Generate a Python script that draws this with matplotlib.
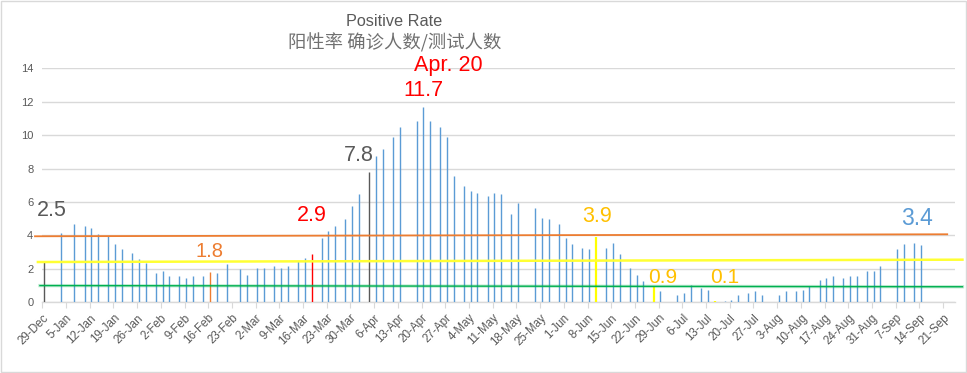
import numpy as np
import matplotlib
matplotlib.use("Agg")
import matplotlib.pyplot as plt
from matplotlib.patches import Rectangle

plt.rcParams['font.family'] = ['Liberation Sans', 'Noto Sans CJK SC', 'DejaVu Sans']

# ---------------- data ----------------
start_date = "2020-12-29"
dates = [
    "2020-12-29", "2021-01-03", "2021-01-07", "2021-01-10", "2021-01-12", "2021-01-14",
    "2021-01-17", "2021-01-19", "2021-01-21", "2021-01-24", "2021-01-26", "2021-01-28",
    "2021-01-31", "2021-02-02", "2021-02-04", "2021-02-07", "2021-02-09", "2021-02-11",
    "2021-02-14", "2021-02-16", "2021-02-18", "2021-02-21", "2021-02-25", "2021-02-27",
    "2021-03-02", "2021-03-04", "2021-03-07", "2021-03-09", "2021-03-11", "2021-03-14",
    "2021-03-16", "2021-03-18", "2021-03-21", "2021-03-23", "2021-03-25", "2021-03-28",
    "2021-03-30", "2021-04-01", "2021-04-04", "2021-04-06", "2021-04-08", "2021-04-11",
    "2021-04-13", "2021-04-18", "2021-04-20", "2021-04-22", "2021-04-25", "2021-04-27",
    "2021-04-29", "2021-05-02", "2021-05-04", "2021-05-06", "2021-05-09", "2021-05-11",
    "2021-05-13", "2021-05-16", "2021-05-18", "2021-05-23", "2021-05-25", "2021-05-27",
    "2021-05-30", "2021-06-01", "2021-06-03", "2021-06-06", "2021-06-08", "2021-06-10",
    "2021-06-13", "2021-06-15", "2021-06-17", "2021-06-20", "2021-06-22", "2021-06-24",
    "2021-06-27", "2021-06-29", "2021-07-04", "2021-07-06", "2021-07-08", "2021-07-11",
    "2021-07-13", "2021-07-15", "2021-07-18", "2021-07-20", "2021-07-22", "2021-07-25",
    "2021-07-27", "2021-07-29", "2021-08-03", "2021-08-05", "2021-08-08", "2021-08-10",
    "2021-08-12", "2021-08-15", "2021-08-17", "2021-08-19", "2021-08-22", "2021-08-24",
    "2021-08-26", "2021-08-29", "2021-08-31", "2021-09-02", "2021-09-07", "2021-09-09",
    "2021-09-12", "2021-09-14",
]
rates = [
    2.5, 4.15, 4.69, 4.57, 4.45, 4.09,
    3.95, 3.49, 3.19, 2.95, 2.59, 2.35,
    1.75, 1.87, 1.57, 1.57, 1.47, 1.57,
    1.57, 1.8, 1.75, 2.29, 1.99, 1.63,
    2.05, 2.05, 2.17, 2.05, 2.17, 2.47,
    2.65, 2.9, 3.85, 4.27, 4.57, 4.99,
    5.76, 6.48, 7.8, 8.76, 9.17, 9.89,
    10.49, 10.85, 11.7, 10.85, 10.49, 9.89,
    7.56, 6.96, 6.66, 6.54, 6.36, 6.54,
    6.48, 5.28, 5.94, 5.64, 5.04, 4.98,
    4.68, 3.85, 3.49, 3.25, 3.19, 3.9,
    3.25, 3.55, 2.89, 2.05, 1.63, 1.27,
    0.9, 0.68, 0.44, 0.56, 1.04, 0.86,
    0.74, 0.1, 0.08, 0.14, 0.44, 0.56,
    0.68, 0.44, 0.44, 0.68, 0.68, 0.74,
    0.98, 1.34, 1.46, 1.58, 1.46, 1.58,
    1.58, 1.88, 1.88, 2.18, 3.19, 3.49,
    3.55, 3.4,
]
highlight_dates = ["2020-12-29", "2021-02-16", "2021-03-18", "2021-04-04",
                   "2021-06-10", "2021-06-27", "2021-07-15"]
highlight_colors = ["#595959", "#ED7D31", "#FF0000", "#595959",
                    "#FFFF00", "#FFFF00", "#FFFF00"]
tick_labels = ["29-Dec", "5-Jan", "12-Jan", "19-Jan", "26-Jan", "2-Feb", "9-Feb",
               "16-Feb", "23-Feb", "2-Mar", "9-Mar", "16-Mar", "23-Mar", "30-Mar",
               "6-Apr", "13-Apr", "20-Apr", "27-Apr", "4-May", "11-May", "18-May",
               "25-May", "1-Jun", "8-Jun", "15-Jun", "22-Jun", "29-Jun", "6-Jul",
               "13-Jul", "20-Jul", "27-Jul", "3-Aug", "10-Aug", "17-Aug", "24-Aug",
               "31-Aug", "7-Sep", "14-Sep", "21-Sep"]
# reference lines: (start level, end level)
ref_orange = [3.95, 4.07]
ref_yellow = [2.41, 2.55]
ref_green = [1.0, 0.93]
title_en = "Positive Rate"
title_cn = "阳性率 确诊人数/测试人数"

# ---------------- figure ----------------
W, H = 967, 373
fig = plt.figure(figsize=(W / 100, H / 100), dpi=100)
ax = fig.add_axes([42.3 / W, 1 - 302.3 / H, (955 - 42.3) / W, (302.3 - 68.3) / H])

days = (np.array(dates, dtype='datetime64[D]') - np.datetime64(start_date)).astype(int)
hl_days = (np.array(highlight_dates, dtype='datetime64[D]') - np.datetime64(start_date)).astype(int)
color_map = dict(zip(hl_days.tolist(), highlight_colors))
colors = [color_map.get(d, "#5B9BD5") for d in days.tolist()]
widths = [1.6 if color_map.get(d) == "#FFFF00" else 1.0 for d in days.tolist()]

ax.vlines(days, 0, rates, colors=colors, linewidths=widths, zorder=3)

ax.set_xlim(-0.5, 269)
ax.set_ylim(0, 14)
ax.set_yticks(np.arange(0, 15, 2))
ax.set_yticklabels([str(v) for v in range(0, 15, 2)])
ax.set_xticks(np.arange(len(tick_labels)) * 7 - 0.5)
ax.set_xticklabels(tick_labels, rotation=45, ha='right', va='top', rotation_mode='anchor')
ax.grid(axis='y', color='#D9D9D9', linewidth=1.0, zorder=0)
ax.set_axisbelow(True)
for s in ['top', 'right', 'left']:
    ax.spines[s].set_visible(False)
ax.spines['bottom'].set_color('#D9D9D9')
ax.spines['bottom'].set_linewidth(1.0)
ax.tick_params(axis='y', length=0, pad=6.5, labelsize=8.0, labelcolor='#595959')
ax.tick_params(axis='x', length=4, color='#D9D9D9', pad=3, labelsize=8.4, labelcolor='#595959')

# reference lines
ax.plot([-2.66, 266.7], ref_orange, color='#ED7D31', lw=1.3, clip_on=False, zorder=4)
ax.plot([-1.8, 271.2], ref_yellow, color='#FFFF33', lw=1.8, clip_on=False, zorder=4)
ax.plot([-1.2, 271.2], ref_green, color='#00B050', lw=2.4, alpha=0.25, clip_on=False, zorder=4)
ax.plot([-1.2, 271.2], ref_green, color='#00B050', lw=1.0, clip_on=False, zorder=4)

# annotations
ann = dict(clip_on=False, zorder=5)
ax.text(-2.1, 5.52, "2.5", color='#595959', fontsize=15.5, ha='left', va='center', **ann)
ax.text(49.0, 3.01, "1.8", color='#ED7D31', fontsize=14.5, ha='center', va='center', **ann)
ax.text(79.2, 5.22, "2.9", color='#FF0000', fontsize=15.5, ha='center', va='center', **ann)
ax.text(93.0, 8.76, "7.8", color='#595959', fontsize=15.5, ha='center', va='center', **ann)
ax.text(112.1, 12.65, "11.7", color='#FF0000', fontsize=15.5, ha='center', va='center', **ann)
ax.text(119.5, 14.14, "Apr. 20", color='#FF0000', fontsize=15.5, ha='center', va='center', **ann)
ax.text(163.2, 5.16, "3.9", color='#FFC000', fontsize=15.5, ha='center', va='center', **ann)
ax.text(182.7, 1.51, "0.9", color='#FFC000', fontsize=15, ha='center', va='center', **ann)
ax.text(201.1, 1.51, "0.1", color='#FFC000', fontsize=15, ha='center', va='center', **ann)
ax.text(257.8, 5.04, "3.4", color='#5B9BD5', fontsize=16.5, ha='center', va='center', **ann)

# titles
fig.text(394 / W, 1 - 22 / H, title_en, color='#595959', fontsize=11.7, ha='center', va='center')
fig.text(395 / W, 1 - 43 / H, title_cn, color='#707070', fontsize=13.2, ha='center', va='center',
         family=['Noto Sans CJK SC', 'DejaVu Sans'])

# border
fig.patches.append(Rectangle((1 / W, 1 - 371.7 / H), 965 / W, 370.7 / H, transform=fig.transFigure,
                             fill=False, edgecolor='#D9D9D9', linewidth=1.0))

fig.savefig("out.png", dpi=100)
